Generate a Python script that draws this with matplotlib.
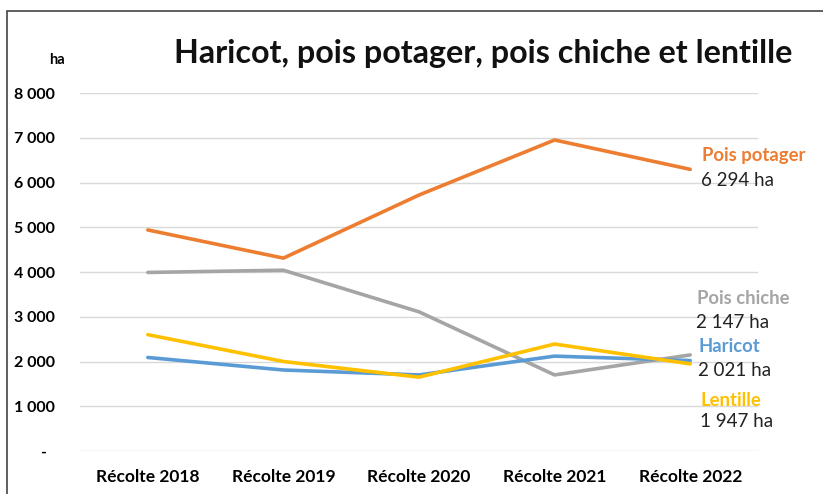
import matplotlib.pyplot as plt
from matplotlib.patches import Rectangle

plt.rcParams['font.family'] = ['Lato', 'DejaVu Sans']

# Data
recoltes = ['Récolte 2018', 'Récolte 2019', 'Récolte 2020', 'Récolte 2021', 'Récolte 2022']
pois_potager = [4940, 4310, 5720, 6950, 6294]
pois_chiche = [3990, 4040, 3110, 1700, 2147]
haricot = [2090, 1810, 1700, 2120, 2021]
lentille = [2600, 2000, 1650, 2390, 1947]

y_ticks = [0, 1000, 2000, 3000, 4000, 5000, 6000, 7000, 8000]
y_ticklabels = ['-  ', '1 000', '2 000', '3 000', '4 000', '5 000', '6 000', '7 000', '8 000']

series = [
    ('Pois potager', pois_potager, '#ED7D31', '6 294 ha'),
    ('Pois chiche', pois_chiche, '#A5A5A5', '2 147 ha'),
    ('Haricot', haricot, '#5B9BD5', '2 021 ha'),
    ('Lentille', lentille, '#FFC000', '1 947 ha'),
]

W, H = 823, 494
fig = plt.figure(figsize=(W / 100, H / 100), dpi=100)
fig.patch.set_facecolor('white')

# outer frame (only left and top edges visible)
fig.patches.append(Rectangle((7 / W, -0.1), 2, (H - 11) / H + 0.1, transform=fig.transFigure,
                             fill=False, edgecolor='#444444', lw=1.2))

ax = fig.add_axes([80 / W, 43 / H, (758 - 80) / W, (451 - 93) / H])
x = list(range(len(recoltes)))

for name, vals, col, lab in series:
    ax.plot(x, vals, color=col, lw=2.6, solid_capstyle='round')

ax.set_xlim(-0.5, len(recoltes) - 0.5)
ax.set_ylim(0, 8000)
ax.set_yticks(y_ticks)
ax.set_yticklabels(y_ticklabels)
ax.set_xticks(x)
ax.set_xticklabels(recoltes)
ax.grid(axis='y', color='#D9D9D9', lw=1)
ax.set_axisbelow(True)
for s in ax.spines.values():
    s.set_visible(False)
ax.tick_params(length=0)
ax.tick_params(axis='y', pad=18, labelsize=11.5)
ax.tick_params(axis='x', pad=13, labelsize=12.5)
for t in ax.get_yticklabels() + ax.get_xticklabels():
    t.set_fontweight('bold')

fig.text(483 / W, 1 - 53 / H, 'Haricot, pois potager, pois chiche et lentille',
         ha='center', va='center', fontsize=23.2, fontweight='bold', color='#111111')
fig.text(57 / W, 1 - 60 / H, 'ha', ha='center', va='center', fontsize=10.5, fontweight='bold')

# end labels
label_pos = {
    'Pois potager': (702, 155, 181),
    'Pois chiche': (697, 299, 323),
    'Haricot': (699, 346, 370),
    'Lentille': (701, 400, 421),
}
for name, vals, col, lab in series:
    px, py1, py2 = label_pos[name]
    fig.text(px / W, 1 - py1 / H, name, color=col, fontsize=13.3, fontweight='bold', va='center', ha='left')
    fig.text((px - 1) / W, 1 - py2 / H, lab, color='#222222', fontsize=13.5, va='center', ha='left')

fig.savefig('out.png', dpi=100)
